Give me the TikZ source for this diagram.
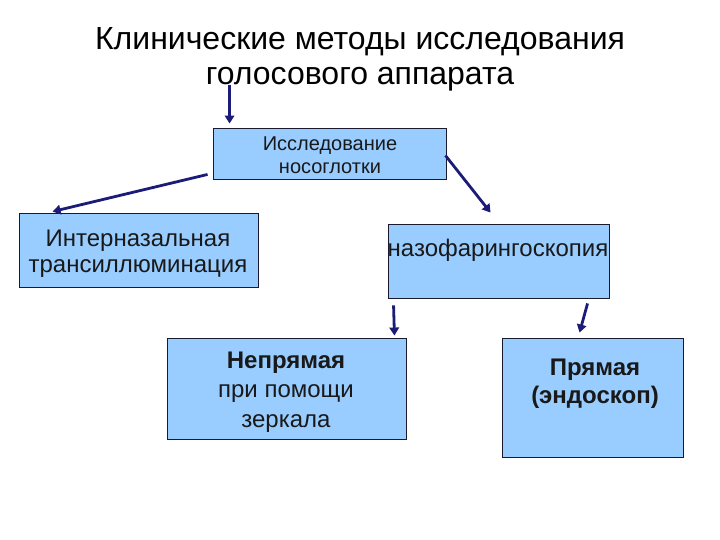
\documentclass[tikz,border=0pt]{standalone}
\usepackage{fontspec}
\setmainfont{Liberation Sans}
\usetikzlibrary{calc,arrows.meta}
\definecolor{boxfill}{HTML}{99CCFF}
\definecolor{arrowblue}{HTML}{1C1C78}
\definecolor{boxline}{HTML}{1A1A2E}
\begin{document}
\begin{tikzpicture}[x=1pt,y=-1pt,
  box/.style={draw=boxline, line width=0.9pt, fill=boxfill, inner sep=0pt},
  boxtext/.style={align=center, inner sep=0pt, text=black!90},
  arrowline/.style={draw=arrowblue, line width=2.8pt, -{Triangle[length=8pt,width=9.5pt]}}]
\useasboundingbox (0,0) rectangle (720,540);
% title
\node[align=center, inner sep=0pt, font=\fontsize{32}{35}\selectfont] (title) at (360,59)
  {Клинические методы исследования\\голосового аппарата};
% boxes
\node[box, minimum width=233pt, minimum height=51pt] (b1) at (329.5,153.5) {};
\node[box, minimum width=239pt, minimum height=74pt] (b2) at (138.5,250) {};
\node[box, minimum width=221pt, minimum height=74pt] (b3) at (498.5,261) {};
\node[box, minimum width=239pt, minimum height=101pt] (b4) at (286.5,388.5) {};
\node[box, minimum width=181pt, minimum height=119pt] (b5) at (592.5,397.5) {};
% texts
\node[boxtext, font=\fontsize{20}{23}\selectfont] (t1) at (330,155) {Исследование\\носоглотки};
\node[boxtext, font=\fontsize{24}{26}\selectfont] (t2) at (138,254) {Интерназальная\\трансиллюминация};
\node[boxtext, font=\fontsize{24}{26}\selectfont] (t3) at (498,250) {назофарингоскопия};
\node[boxtext, font=\fontsize{24}{29.5}\selectfont] (t4) at (286,392) {\textbf{Непрямая}\\при помощи\\зеркала};
\node[boxtext, font=\fontsize{24}{28}\selectfont] (t5) at (595,384) {\textbf{Прямая}\\\textbf{(эндоскоп)}};
% arrows
\coordinate (a0) at ($(b1.north west)+(17,-43)$);
\draw[arrowline] (a0) -- ($(b1.north west)+(17,-4)$);
\draw[arrowline] ($(b1.south west)+(-5,-5)$) -- ($(b2.north west)+(34,-1)$);
\draw[arrowline] ($(b1.east)+(-1,2)$) -- ($(b3.north west)+(103,-11)$);
\draw[arrowline] ($(b3.south west)+(6,7)$) -- ($(b4.north east)+(-12,-2)$);
\draw[arrowline] ($(b3.south west)+(200,5)$) -- ($(b5.north west)+(78,-5)$);
\end{tikzpicture}
\end{document}
